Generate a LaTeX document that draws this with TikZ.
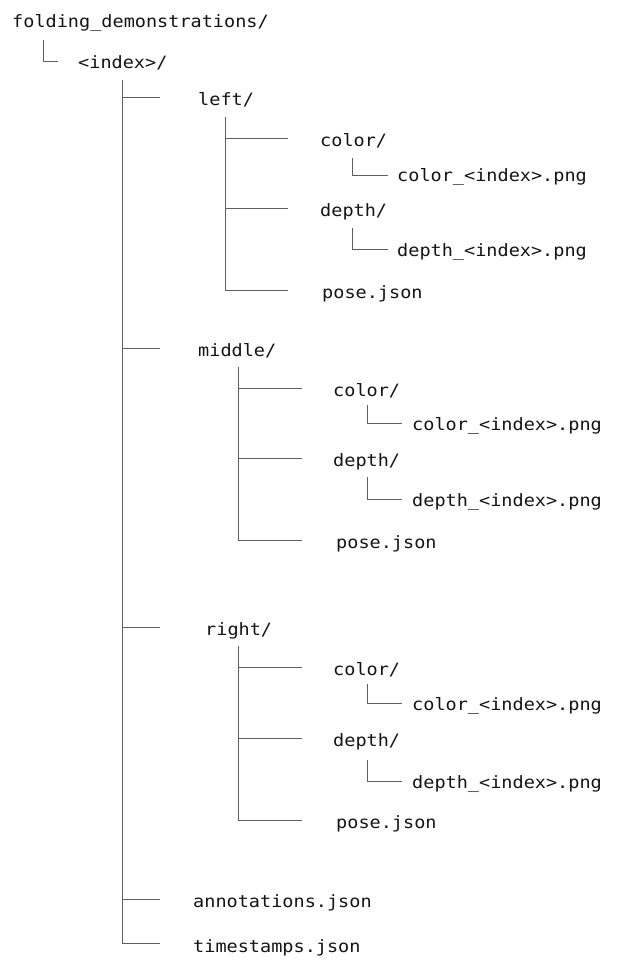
\documentclass[tikz,border=0pt]{standalone}
\usepackage{fontspec}
\newfontfamily\treefont[FakeStretch=1.09]{DejaVu Sans Mono}
\definecolor{linegray}{RGB}{95,95,95}
\definecolor{txt}{RGB}{20,20,20}
\begin{document}
\begin{tikzpicture}[x=1pt,y=-1pt,
  item/.style={anchor=mid west,inner sep=0pt,yshift=-3pt,font=\treefont\fontsize{17}{19}\selectfont,text=txt},
  conn/.style={draw=linegray,line width=0.9pt}]
\useasboundingbox (0,0) rectangle (633,980);

% ---------- text nodes ----------
\node[item] (root) at (12,22) {folding\_demonstrations/};
\node[item] (idx) at (78,63) {<index>/};

\node[item] (left) at (198,100) {left/};
\node[item] (lcol) at (320,141) {color/};
\node[item] (lcolf) at (397,176) {color\_<index>.png};
\node[item] (ldep) at (320,211) {depth/};
\node[item] (ldepf) at (397,251) {depth\_<index>.png};
\node[item] (lpose) at (322,293) {pose.json};

\node[item] (mid) at (198,351) {middle/};
\node[item] (mcol) at (333,391) {color/};
\node[item] (mcolf) at (412,425) {color\_<index>.png};
\node[item] (mdep) at (333,461) {depth/};
\node[item] (mdepf) at (412,501) {depth\_<index>.png};
\node[item] (mpose) at (336,543) {pose.json};

\node[item] (right) at (205,630) {right/};
\node[item] (rcol) at (333,670) {color/};
\node[item] (rcolf) at (412,705) {color\_<index>.png};
\node[item] (rdep) at (333,741) {depth/};
\node[item] (rdepf) at (412,783) {depth\_<index>.png};
\node[item] (rpose) at (336,823) {pose.json};

\node[item] (ann) at (193,902) {annotations.json};
\node[item] (ts) at (193,947) {timestamps.json};

% ---------- connector coordinates ----------
\coordinate (c0) at (43,40);   \coordinate (c0e) at (58,61);

\coordinate (m0) at (122,80);
\coordinate (mL) at (160,97);  \coordinate (mM) at (160,348);
\coordinate (mR) at (160,627); \coordinate (mA) at (160,899);
\coordinate (mT) at (160,943);

\coordinate (l0) at (225,117);
\coordinate (lC) at (288,138); \coordinate (lD) at (288,208); \coordinate (lP) at (288,290);
\coordinate (lc0) at (352,158); \coordinate (lcE) at (388,175);
\coordinate (ld0) at (352,228); \coordinate (ldE) at (388,249);

\coordinate (n0) at (238,367);
\coordinate (nC) at (302,388); \coordinate (nD) at (302,458); \coordinate (nP) at (302,540);
\coordinate (nc0) at (367,405); \coordinate (ncE) at (402,423);
\coordinate (nd0) at (367,477); \coordinate (ndE) at (402,499);

\coordinate (r0) at (238,646);
\coordinate (rC) at (302,667); \coordinate (rD) at (302,738); \coordinate (rP) at (302,820);
\coordinate (rc0) at (367,684); \coordinate (rcE) at (402,703);
\coordinate (rd0) at (367,760); \coordinate (rdE) at (402,781);

% ---------- connectors ----------
\draw[conn] (c0) |- (c0e);

\draw[conn] (m0) |- (mT);
\foreach \e in {mL,mM,mR,mA} \draw[conn] (m0 |- \e) -- (\e);

\draw[conn] (l0) |- (lP);
\foreach \e in {lC,lD} \draw[conn] (l0 |- \e) -- (\e);
\draw[conn] (lc0) |- (lcE);
\draw[conn] (ld0) |- (ldE);

\draw[conn] (n0) |- (nP);
\foreach \e in {nC,nD} \draw[conn] (n0 |- \e) -- (\e);
\draw[conn] (nc0) |- (ncE);
\draw[conn] (nd0) |- (ndE);

\draw[conn] (r0) |- (rP);
\foreach \e in {rC,rD} \draw[conn] (r0 |- \e) -- (\e);
\draw[conn] (rc0) |- (rcE);
\draw[conn] (rd0) |- (rdE);
\end{tikzpicture}
\end{document}
